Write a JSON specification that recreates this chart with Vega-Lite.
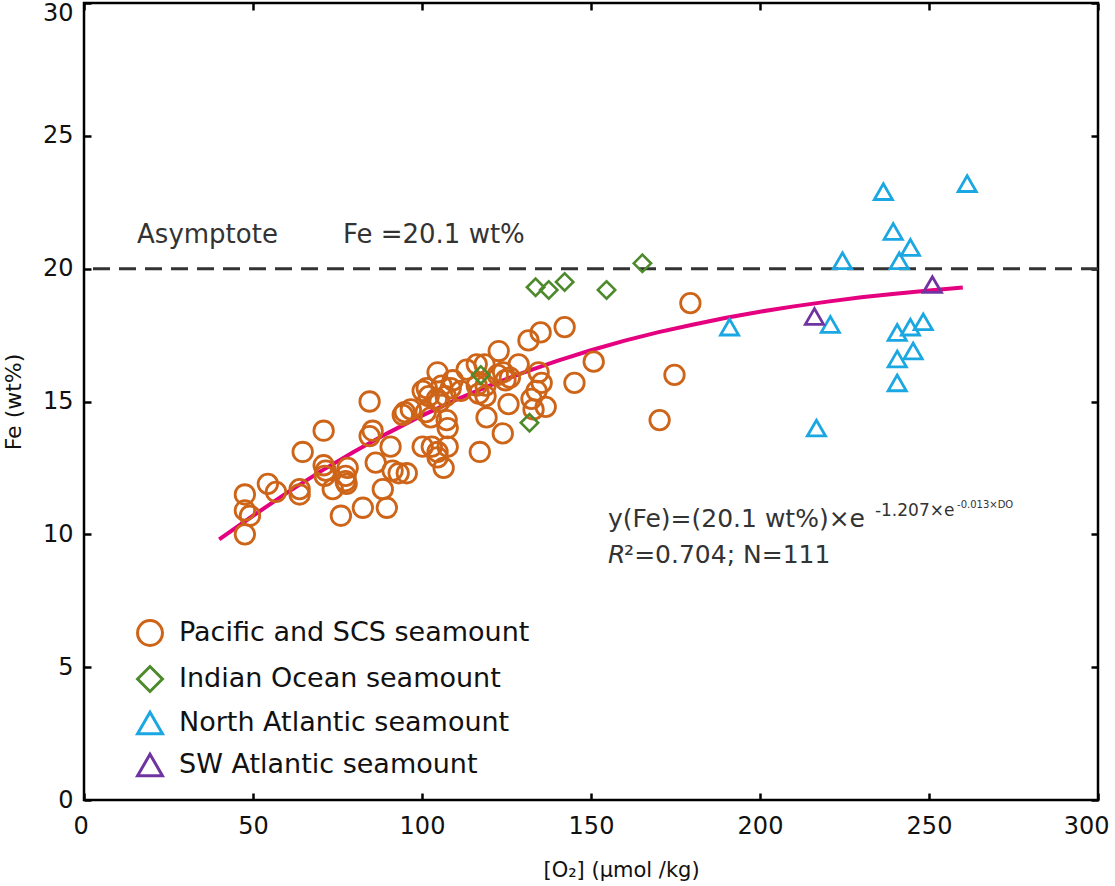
{
  "$schema": "https://vega.github.io/schema/vega-lite/v6.json",
  "description": "Fe (wt%) against dissolved oxygen for seamount crusts, with exponential fit and asymptote.",
  "width": 1014,
  "height": 797,
  "autosize": {"type": "none"},
  "padding": {"left": 84, "top": 3, "right": 17, "bottom": 86},
  "datasets": {
    "samples": [
      {"region": "Pacific and SCS seamount", "o2": 47.6, "fe": 11.5},
      {"region": "Pacific and SCS seamount", "o2": 47.6, "fe": 10.9},
      {"region": "Pacific and SCS seamount", "o2": 49.1, "fe": 10.7},
      {"region": "Pacific and SCS seamount", "o2": 47.6, "fe": 10.0},
      {"region": "Pacific and SCS seamount", "o2": 54.4, "fe": 11.9},
      {"region": "Pacific and SCS seamount", "o2": 56.8, "fe": 11.6},
      {"region": "Pacific and SCS seamount", "o2": 63.8, "fe": 11.7},
      {"region": "Pacific and SCS seamount", "o2": 63.8, "fe": 11.5},
      {"region": "Pacific and SCS seamount", "o2": 64.7, "fe": 13.1},
      {"region": "Pacific and SCS seamount", "o2": 70.9, "fe": 13.9},
      {"region": "Pacific and SCS seamount", "o2": 70.9, "fe": 12.6},
      {"region": "Pacific and SCS seamount", "o2": 71.5, "fe": 12.4},
      {"region": "Pacific and SCS seamount", "o2": 71.2, "fe": 12.2},
      {"region": "Pacific and SCS seamount", "o2": 73.6, "fe": 11.7},
      {"region": "Pacific and SCS seamount", "o2": 76.0, "fe": 10.7},
      {"region": "Pacific and SCS seamount", "o2": 77.4, "fe": 12.2},
      {"region": "Pacific and SCS seamount", "o2": 77.4, "fe": 12.0},
      {"region": "Pacific and SCS seamount", "o2": 78.0, "fe": 12.5},
      {"region": "Pacific and SCS seamount", "o2": 77.7, "fe": 11.9},
      {"region": "Pacific and SCS seamount", "o2": 84.5, "fe": 15.0},
      {"region": "Pacific and SCS seamount", "o2": 85.4, "fe": 13.9},
      {"region": "Pacific and SCS seamount", "o2": 84.5, "fe": 13.7},
      {"region": "Pacific and SCS seamount", "o2": 86.3, "fe": 12.7},
      {"region": "Pacific and SCS seamount", "o2": 82.5, "fe": 11.0},
      {"region": "Pacific and SCS seamount", "o2": 88.4, "fe": 11.7},
      {"region": "Pacific and SCS seamount", "o2": 89.6, "fe": 11.0},
      {"region": "Pacific and SCS seamount", "o2": 90.7, "fe": 13.3},
      {"region": "Pacific and SCS seamount", "o2": 91.3, "fe": 12.4},
      {"region": "Pacific and SCS seamount", "o2": 93.1, "fe": 12.3},
      {"region": "Pacific and SCS seamount", "o2": 95.5, "fe": 12.3},
      {"region": "Pacific and SCS seamount", "o2": 94.9, "fe": 14.6},
      {"region": "Pacific and SCS seamount", "o2": 96.7, "fe": 14.7},
      {"region": "Pacific and SCS seamount", "o2": 94.3, "fe": 14.5},
      {"region": "Pacific and SCS seamount", "o2": 100.2, "fe": 15.4},
      {"region": "Pacific and SCS seamount", "o2": 101.1, "fe": 14.6},
      {"region": "Pacific and SCS seamount", "o2": 102.0, "fe": 15.2},
      {"region": "Pacific and SCS seamount", "o2": 102.6, "fe": 14.4},
      {"region": "Pacific and SCS seamount", "o2": 102.9, "fe": 13.3},
      {"region": "Pacific and SCS seamount", "o2": 104.6, "fe": 16.1},
      {"region": "Pacific and SCS seamount", "o2": 104.6, "fe": 13.1},
      {"region": "Pacific and SCS seamount", "o2": 105.2, "fe": 15.0},
      {"region": "Pacific and SCS seamount", "o2": 105.8, "fe": 15.6},
      {"region": "Pacific and SCS seamount", "o2": 107.0, "fe": 15.2},
      {"region": "Pacific and SCS seamount", "o2": 106.4, "fe": 12.5},
      {"region": "Pacific and SCS seamount", "o2": 107.6, "fe": 14.0},
      {"region": "Pacific and SCS seamount", "o2": 107.6, "fe": 13.3},
      {"region": "Pacific and SCS seamount", "o2": 109.1, "fe": 15.8},
      {"region": "Pacific and SCS seamount", "o2": 108.5, "fe": 15.5},
      {"region": "Pacific and SCS seamount", "o2": 116.2, "fe": 16.4},
      {"region": "Pacific and SCS seamount", "o2": 116.2, "fe": 15.6},
      {"region": "Pacific and SCS seamount", "o2": 116.8, "fe": 15.3},
      {"region": "Pacific and SCS seamount", "o2": 117.1, "fe": 13.1},
      {"region": "Pacific and SCS seamount", "o2": 118.5, "fe": 16.4},
      {"region": "Pacific and SCS seamount", "o2": 118.8, "fe": 15.2},
      {"region": "Pacific and SCS seamount", "o2": 119.1, "fe": 14.4},
      {"region": "Pacific and SCS seamount", "o2": 118.8, "fe": 15.6},
      {"region": "Pacific and SCS seamount", "o2": 122.7, "fe": 16.9},
      {"region": "Pacific and SCS seamount", "o2": 122.4, "fe": 16.0},
      {"region": "Pacific and SCS seamount", "o2": 123.9, "fe": 13.8},
      {"region": "Pacific and SCS seamount", "o2": 124.7, "fe": 15.8},
      {"region": "Pacific and SCS seamount", "o2": 125.6, "fe": 14.9},
      {"region": "Pacific and SCS seamount", "o2": 128.6, "fe": 16.4},
      {"region": "Pacific and SCS seamount", "o2": 131.5, "fe": 17.3},
      {"region": "Pacific and SCS seamount", "o2": 132.4, "fe": 15.1},
      {"region": "Pacific and SCS seamount", "o2": 133.0, "fe": 14.7},
      {"region": "Pacific and SCS seamount", "o2": 134.5, "fe": 16.1},
      {"region": "Pacific and SCS seamount", "o2": 135.1, "fe": 17.6},
      {"region": "Pacific and SCS seamount", "o2": 135.4, "fe": 15.7},
      {"region": "Pacific and SCS seamount", "o2": 133.9, "fe": 15.4},
      {"region": "Pacific and SCS seamount", "o2": 136.6, "fe": 14.8},
      {"region": "Pacific and SCS seamount", "o2": 142.2, "fe": 17.8},
      {"region": "Pacific and SCS seamount", "o2": 145.1, "fe": 15.7},
      {"region": "Pacific and SCS seamount", "o2": 150.8, "fe": 16.5},
      {"region": "Pacific and SCS seamount", "o2": 170.3, "fe": 14.3},
      {"region": "Pacific and SCS seamount", "o2": 174.7, "fe": 16.0},
      {"region": "Pacific and SCS seamount", "o2": 179.4, "fe": 18.7},
      {"region": "Pacific and SCS seamount", "o2": 113.2, "fe": 16.2},
      {"region": "Pacific and SCS seamount", "o2": 126.0, "fe": 15.9},
      {"region": "Pacific and SCS seamount", "o2": 124.0, "fe": 16.1},
      {"region": "Pacific and SCS seamount", "o2": 101.4, "fe": 15.5},
      {"region": "Pacific and SCS seamount", "o2": 104.4, "fe": 15.1},
      {"region": "Pacific and SCS seamount", "o2": 107.3, "fe": 14.3},
      {"region": "Pacific and SCS seamount", "o2": 100.2, "fe": 13.3},
      {"region": "Pacific and SCS seamount", "o2": 104.6, "fe": 12.9},
      {"region": "Pacific and SCS seamount", "o2": 111.5, "fe": 15.4},
      {"region": "Indian Ocean seamount", "o2": 117.4, "fe": 16.0},
      {"region": "Indian Ocean seamount", "o2": 131.8, "fe": 14.2},
      {"region": "Indian Ocean seamount", "o2": 133.6, "fe": 19.3},
      {"region": "Indian Ocean seamount", "o2": 137.5, "fe": 19.2},
      {"region": "Indian Ocean seamount", "o2": 142.2, "fe": 19.5},
      {"region": "Indian Ocean seamount", "o2": 154.6, "fe": 19.2},
      {"region": "Indian Ocean seamount", "o2": 165.2, "fe": 20.2},
      {"region": "North Atlantic seamount", "o2": 236.5, "fe": 22.9},
      {"region": "North Atlantic seamount", "o2": 261.3, "fe": 23.2},
      {"region": "North Atlantic seamount", "o2": 239.4, "fe": 21.4},
      {"region": "North Atlantic seamount", "o2": 244.5, "fe": 20.8},
      {"region": "North Atlantic seamount", "o2": 224.4, "fe": 20.3},
      {"region": "North Atlantic seamount", "o2": 241.2, "fe": 20.3},
      {"region": "North Atlantic seamount", "o2": 191.0, "fe": 17.8},
      {"region": "North Atlantic seamount", "o2": 220.8, "fe": 17.9},
      {"region": "North Atlantic seamount", "o2": 240.6, "fe": 17.6},
      {"region": "North Atlantic seamount", "o2": 244.5, "fe": 17.8},
      {"region": "North Atlantic seamount", "o2": 248.3, "fe": 18.0},
      {"region": "North Atlantic seamount", "o2": 245.3, "fe": 16.9},
      {"region": "North Atlantic seamount", "o2": 240.6, "fe": 16.6},
      {"region": "North Atlantic seamount", "o2": 240.6, "fe": 15.7},
      {"region": "North Atlantic seamount", "o2": 216.7, "fe": 14.0},
      {"region": "SW Atlantic seamount", "o2": 216.1, "fe": 18.2},
      {"region": "SW Atlantic seamount", "o2": 251.0, "fe": 19.4}
    ],
    "fit": [
      {"o2": 40, "fe": 9.81}, {"o2": 50, "fe": 10.70}, {"o2": 60, "fe": 11.56},
      {"o2": 70, "fe": 12.37}, {"o2": 80, "fe": 13.12}, {"o2": 90, "fe": 13.82},
      {"o2": 100, "fe": 14.47}, {"o2": 110, "fe": 15.06}, {"o2": 120, "fe": 15.60},
      {"o2": 130, "fe": 16.09}, {"o2": 140, "fe": 16.53}, {"o2": 150, "fe": 16.93},
      {"o2": 160, "fe": 17.29}, {"o2": 170, "fe": 17.61}, {"o2": 180, "fe": 17.89},
      {"o2": 190, "fe": 18.15}, {"o2": 200, "fe": 18.38}, {"o2": 210, "fe": 18.58},
      {"o2": 220, "fe": 18.76}, {"o2": 230, "fe": 18.92}, {"o2": 240, "fe": 19.06},
      {"o2": 250, "fe": 19.18}, {"o2": 260, "fe": 19.29}
    ]
  },
  "layer": [
    {
      "data": {"values": [{"level": 20}]},
      "mark": {"type": "rule", "color": "#333333", "strokeWidth": 3, "strokeDash": [17, 9]},
      "encoding": {
        "y": {"field": "level", "type": "quantitative", "scale": {"domain": [0, 30], "nice": false}, "axis": null}
      }
    },
    {
      "data": {"name": "fit"},
      "mark": {"type": "line", "color": "#E4007F", "strokeWidth": 4},
      "encoding": {
        "x": {"field": "o2", "type": "quantitative", "axis": null},
        "y": {"field": "fe", "type": "quantitative", "axis": null}
      }
    },
    {
      "data": {"name": "samples"},
      "transform": [{"filter": "datum.region == 'Pacific and SCS seamount'"}],
      "mark": {"type": "point", "filled": false, "strokeWidth": 2.8, "opacity": 1, "size": 380},
      "encoding": {
        "x": {
          "field": "o2", "type": "quantitative",
          "scale": {"domain": [0, 300], "nice": false},
          "axis": {
            "orient": "bottom", "values": [0, 50, 100, 150, 200, 250, 300],
            "title": "[O₂] (μmol /kg)", "titleX": 537, "titleY": 76, "titleBaseline": "alphabetic",
            "titleFontSize": 21, "titleFontWeight": "normal",
            "labelPadding": 21, "labelFlush": true, "labelFlushOffset": 11
          }
        },
        "y": {
          "field": "fe", "type": "quantitative",
          "axis": {
            "orient": "left", "values": [0, 5, 10, 15, 20, 25, 30],
            "title": "Fe (wt%)", "titleFontSize": 22, "titleFontWeight": "normal",
            "titlePadding": 17, "labelPadding": 18, "labelFlush": false,
            "labelOffset": {"condition": {"test": "datum.value == 30", "value": 10}, "value": 0}
          }
        },
        "color": {
          "field": "region", "type": "nominal", "title": null,
          "scale": {
            "domain": ["Pacific and SCS seamount", "Indian Ocean seamount", "North Atlantic seamount", "SW Atlantic seamount"],
            "range": ["#CD6418", "#4C8A2B", "#1BA7E1", "#7034A0"]
          }
        },
        "shape": {
          "field": "region", "type": "nominal", "title": null,
          "scale": {
            "domain": ["Pacific and SCS seamount", "Indian Ocean seamount", "North Atlantic seamount", "SW Atlantic seamount"],
            "range": ["circle", "diamond", "triangle-up", "triangle-up"]
          }
        }
      }
    },
    {
      "data": {"name": "samples"},
      "transform": [{"filter": "datum.region == 'Indian Ocean seamount'"}],
      "mark": {"type": "point", "filled": false, "strokeWidth": 2.6, "opacity": 1, "size": 300},
      "encoding": {
        "x": {"field": "o2", "type": "quantitative", "axis": null},
        "y": {"field": "fe", "type": "quantitative", "axis": null},
        "color": {
          "field": "region", "type": "nominal", "title": null,
          "scale": {
            "domain": ["Pacific and SCS seamount", "Indian Ocean seamount", "North Atlantic seamount", "SW Atlantic seamount"],
            "range": ["#CD6418", "#4C8A2B", "#1BA7E1", "#7034A0"]
          }
        },
        "shape": {
          "field": "region", "type": "nominal", "title": null,
          "scale": {
            "domain": ["Pacific and SCS seamount", "Indian Ocean seamount", "North Atlantic seamount", "SW Atlantic seamount"],
            "range": ["circle", "diamond", "triangle-up", "triangle-up"]
          }
        }
      }
    },
    {
      "data": {"name": "samples"},
      "transform": [{"filter": "datum.region == 'North Atlantic seamount' || datum.region == 'SW Atlantic seamount'"}],
      "mark": {"type": "point", "filled": false, "strokeWidth": 2.8, "opacity": 1, "size": 330},
      "encoding": {
        "x": {"field": "o2", "type": "quantitative", "axis": null},
        "y": {"field": "fe", "type": "quantitative", "axis": null},
        "color": {
          "field": "region", "type": "nominal", "title": null,
          "scale": {
            "domain": ["Pacific and SCS seamount", "Indian Ocean seamount", "North Atlantic seamount", "SW Atlantic seamount"],
            "range": ["#CD6418", "#4C8A2B", "#1BA7E1", "#7034A0"]
          }
        },
        "shape": {
          "field": "region", "type": "nominal", "title": null,
          "scale": {
            "domain": ["Pacific and SCS seamount", "Indian Ocean seamount", "North Atlantic seamount", "SW Atlantic seamount"],
            "range": ["circle", "diamond", "triangle-up", "triangle-up"]
          }
        }
      }
    },
    {
      "data": {"values": [
        {"x": 15.7, "y": 20.96, "label": "Asymptote"},
        {"x": 76.6, "y": 20.96, "label": "Fe =20.1 wt%"}
      ]},
      "mark": {"type": "text", "align": "left", "baseline": "alphabetic", "font": "DejaVu Sans", "fontSize": 26, "color": "#333333"},
      "encoding": {
        "x": {"field": "x", "type": "quantitative",
          "axis": {"orient": "top", "values": [0, 50, 100, 150, 200, 250, 300], "labels": false, "title": null, "domain": false}},
        "y": {"field": "y", "type": "quantitative",
          "axis": {"orient": "right", "values": [0, 5, 10, 15, 20, 25, 30], "labels": false, "title": null, "domain": false}},
        "text": {"field": "label"}
      }
    },
    {
      "data": {"values": [
        {"x": 155.0, "y": 10.27, "label": "y(Fe)=(20.1 wt%)×e"},
        {"x": 159.8, "y": 8.92, "label": "²=0.704; N=111"}
      ]},
      "mark": {"type": "text", "align": "left", "baseline": "alphabetic", "font": "DejaVu Sans", "fontSize": 25, "color": "#333333"},
      "encoding": {
        "x": {"field": "x", "type": "quantitative", "axis": null},
        "y": {"field": "y", "type": "quantitative", "axis": null},
        "text": {"field": "label"}
      }
    },
    {
      "data": {"values": [{"x": 155.0, "y": 8.92, "label": "R"}]},
      "mark": {"type": "text", "align": "left", "baseline": "alphabetic", "font": "DejaVu Sans", "fontSize": 25, "fontStyle": "italic", "color": "#333333"},
      "encoding": {
        "x": {"field": "x", "type": "quantitative", "axis": null},
        "y": {"field": "y", "type": "quantitative", "axis": null},
        "text": {"field": "label"}
      }
    },
    {
      "data": {"values": [{"x": 234.0, "y": 10.69, "label": "-1.207×e"}]},
      "mark": {"type": "text", "align": "left", "baseline": "alphabetic", "font": "DejaVu Sans", "fontSize": 17, "color": "#333333"},
      "encoding": {
        "x": {"field": "x", "type": "quantitative", "axis": null},
        "y": {"field": "y", "type": "quantitative", "axis": null},
        "text": {"field": "label"}
      }
    },
    {
      "data": {"values": [{"x": 258.3, "y": 10.99, "label": "-0.013×DO"}]},
      "mark": {"type": "text", "align": "left", "baseline": "alphabetic", "font": "DejaVu Sans", "fontSize": 10, "color": "#333333"},
      "encoding": {
        "x": {"field": "x", "type": "quantitative", "axis": null},
        "y": {"field": "y", "type": "quantitative", "axis": null},
        "text": {"field": "label"}
      }
    }
  ],
  "resolve": {"axis": {"x": "independent", "y": "independent"}},
  "config": {
    "view": {"stroke": "#000000", "strokeWidth": 2.5},
    "font": "DejaVu Sans",
    "axis": {
      "grid": false,
      "domain": false,
      "ticks": true,
      "tickSize": -7,
      "tickWidth": 2.5,
      "tickColor": "#000000",
      "labelFont": "DejaVu Sans",
      "labelFontSize": 24,
      "labelColor": "#111111",
      "titleFont": "DejaVu Sans",
      "titleColor": "#111111"
    },
    "legend": {
      "orient": "none",
      "legendX": 52,
      "legendY": 616,
      "labelFont": "DejaVu Sans",
      "labelFontSize": 27,
      "labelColor": "#111111",
      "labelLimit": 0,
      "symbolSize": 620,
      "symbolStrokeWidth": 3,
      "rowPadding": 8,
      "labelOffset": 15,
      "padding": 0
    }
  }
}
